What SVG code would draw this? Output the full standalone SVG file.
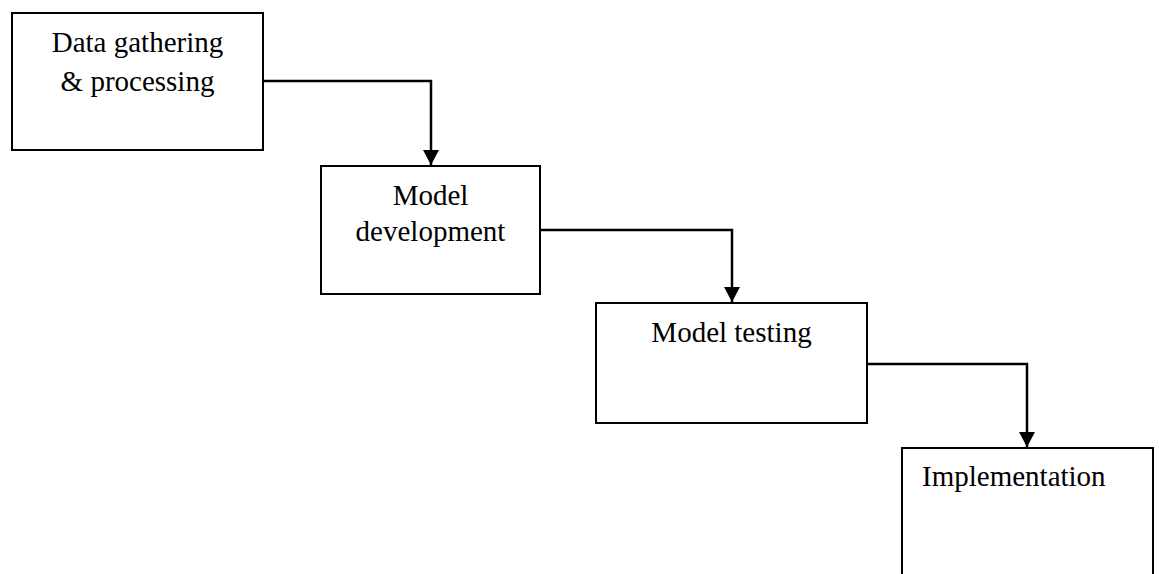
<svg xmlns="http://www.w3.org/2000/svg" width="1159" height="574" viewBox="0 0 1159 574">
  <style>
    .box { fill: #ffffff; stroke: #000000; stroke-width: 2; }
    .label { font-family: "Liberation Serif", "Times New Roman", serif; font-size: 29px; fill: #000000; }
    .mid { text-anchor: middle; }
    .link { fill: none; stroke: #000000; stroke-width: 2.5; marker-end: url(#arrow); }
  </style>
  <defs>
    <marker id="arrow" viewBox="0 0 15 16" refX="15" refY="8" markerWidth="15" markerHeight="16" markerUnits="userSpaceOnUse" orient="auto">
      <path d="M0,0 L15,8 L0,16 z" fill="#000000"/>
    </marker>
  </defs>
  <rect width="1159" height="574" fill="#ffffff"/>

  <g id="connectors">
    <path class="link" d="M263,81 H431 V165"/>
    <path class="link" d="M540,230 H732 V302"/>
    <path class="link" d="M867,364 H1027 V447"/>
  </g>

  <g id="data-gathering">
    <rect class="box" x="12" y="13" width="251" height="137"/>
    <text class="label mid" x="137.5" y="52">Data gathering</text>
    <text class="label mid" x="137.5" y="91">&amp; processing</text>
  </g>

  <g id="model-development">
    <rect class="box" x="321" y="166" width="219" height="128"/>
    <text class="label mid" x="430.5" y="205">Model</text>
    <text class="label mid" x="430.5" y="241">development</text>
  </g>

  <g id="model-testing">
    <rect class="box" x="596" y="303" width="271" height="120"/>
    <text class="label mid" x="731.5" y="342">Model testing</text>
  </g>

  <g id="implementation">
    <rect class="box" x="902" y="448" width="251" height="140"/>
    <text class="label" x="922" y="486">Implementation</text>
  </g>
</svg>
